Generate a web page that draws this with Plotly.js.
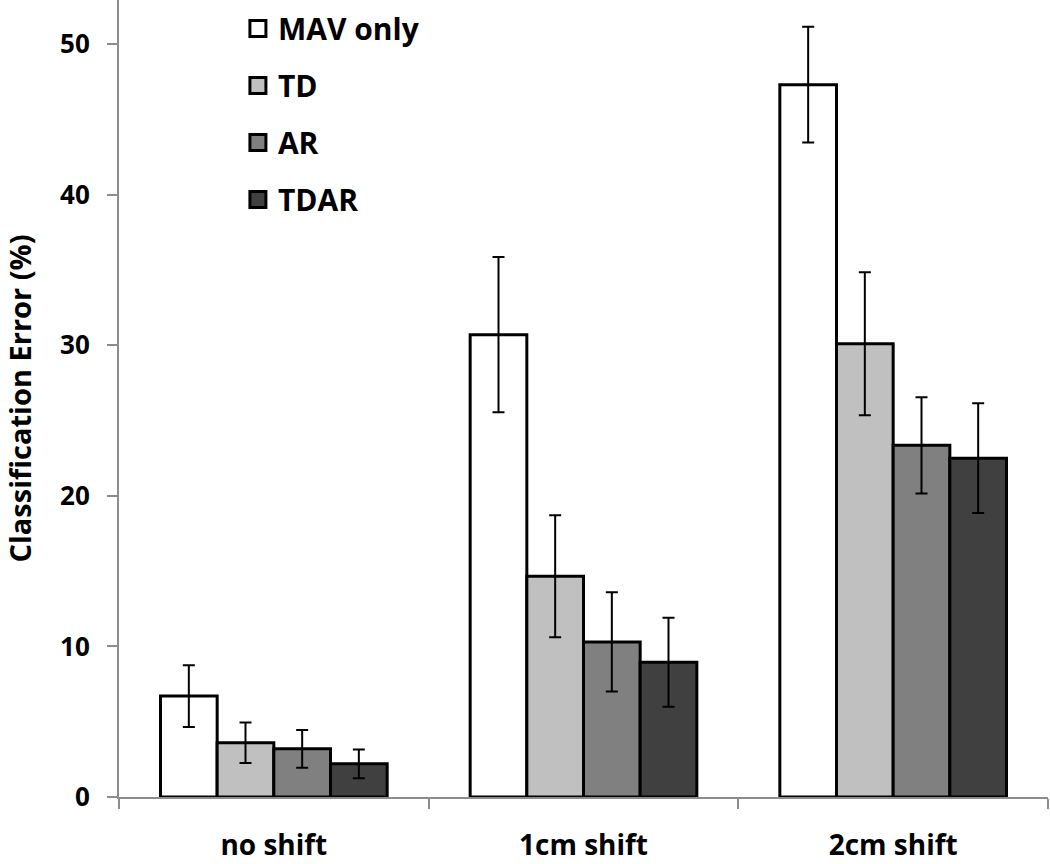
<!DOCTYPE html>
<html>
<head>
<meta charset="utf-8">
<script src="https://cdn.plot.ly/plotly-3.0.1.min.js"></script>
<style>html,body{margin:0;padding:0;background:#fff;}#chart{width:1050px;height:864px;}</style>
</head>
<body>
<div id="chart"></div>
<script>
const categories = ["no shift", "1cm shift", "2cm shift"];
const seriesNames = ["MAV only", "TD", "AR", "TDAR"];
const mavOnly = [6.7, 30.7, 47.3];
const td = [3.6, 14.65, 30.1];
const ar = [3.2, 10.3, 23.35];
const tdar = [2.2, 8.95, 22.5];
const errMavOnly = [2.05, 5.15, 3.85];
const errTd = [1.35, 4.05, 4.75];
const errAr = [1.25, 3.3, 3.2];
const errTdar = [0.95, 2.95, 3.65];
const yTicks = [0, 10, 20, 30, 40, 50];

const fills = ["#ffffff", "#c0c0c0", "#808080", "#404040"];
const values = [mavOnly, td, ar, tdar];
const errs = [errMavOnly, errTd, errAr, errTdar];
const FONT = "Open Sans, Noto Sans, sans-serif";

const traces = seriesNames.map((name, i) => ({
  type: "bar",
  name: name,
  x: categories,
  y: values[i],
  legendgroup: "g" + i,
  showlegend: false,
  marker: {color: fills[i], line: {color: "#000", width: 3}},
  error_y: {type: "data", array: errs[i], visible: true, color: "#000", thickness: 2, width: 6}
}));

// legend-only entries with larger square swatches
seriesNames.forEach((name, i) => {
  traces.push({
    type: "scatter", mode: "markers", name: name,
    x: [null], y: [null],
    legendgroup: "g" + i, showlegend: true, hoverinfo: "skip",
    marker: {symbol: "square", size: 16, color: fills[i], line: {color: "#000", width: 3}}
  });
});

const layout = {
  width: 1050, height: 864,
  margin: {l: 119, r: 2, t: 0, b: 67},
  paper_bgcolor: "#fff", plot_bgcolor: "#fff",
  barmode: "group", bargap: 0.268, bargroupgap: 0,
  showlegend: true,
  legend: {
    x: 0.128, y: 0.997, xanchor: "left", yanchor: "top",
    traceorder: "grouped", tracegroupgap: 15, itemsizing: "trace",
    font: {family: FONT, size: 30, color: "#000", weight: "bold"},
    bgcolor: "rgba(0,0,0,0)"
  },
  xaxis: {
    type: "category",
    showline: true, linecolor: "#8c8c8c", linewidth: 2,
    ticks: "outside", tickson: "boundaries", ticklen: 10, tickcolor: "#8c8c8c", tickwidth: 2,
    tickfont: {family: FONT, size: 28, color: "#000", weight: "bold"},
    ticklabelstandoff: 22,
    showgrid: false, zeroline: false, fixedrange: true
  },
  yaxis: {
    range: [0, 52.92],
    tickvals: yTicks,
    showline: true, linecolor: "#8c8c8c", linewidth: 2,
    ticks: "outside", ticklen: 10, tickcolor: "#8c8c8c", tickwidth: 2,
    tickfont: {family: FONT, size: 26, color: "#000", weight: "bold"},
    ticklabelstandoff: 12,
    showgrid: false, zeroline: false, fixedrange: true,
    title: {text: "Classification Error (%)", font: {family: FONT, size: 29, color: "#000", weight: "bold"}, standoff: 38}
  }
};

Plotly.newPlot("chart", traces, layout, {displayModeBar: false, staticPlot: true});
</script>
</body>
</html>
